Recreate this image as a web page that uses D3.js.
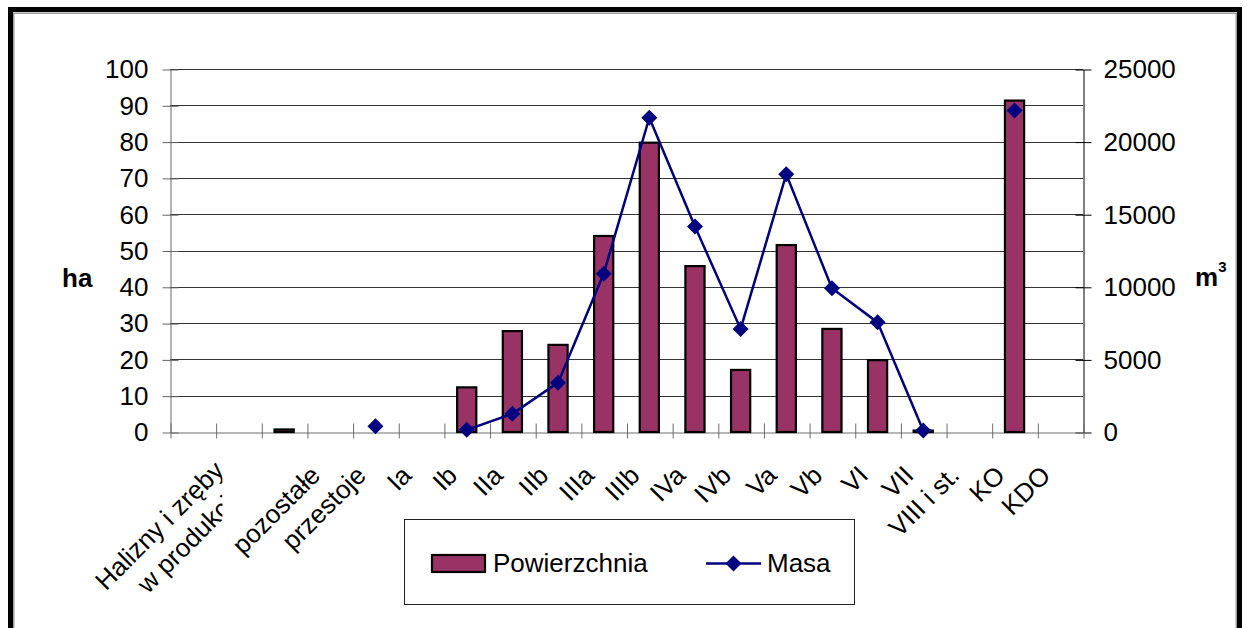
<!DOCTYPE html>
<html><head><meta charset="utf-8">
<script src="https://cdn.jsdelivr.net/npm/d3@7"></script>
<style>
body{margin:0;background:#fff}
svg{display:block;font-family:"Liberation Sans",Arial,sans-serif}
</style>
</head><body><svg id="c" width="1247" height="628"></svg>
<script>
// ---- data ----
const categories = ["", "Halizny i zręby\nw produkcji", "", "pozostałe", "przestoje", "Ia", "Ib", "IIa", "IIb", "IIIa", "IIIb", "IVa", "IVb", "Va", "Vb", "VI", "VII", "VIII i st.", "KO", "KDO"];
const powierzchnia = [null, null, 0.7, null, null, null, 12.3, 27.8, 24.0, 54.0, 79.7, 45.7, 17.1, 51.5, 28.4, 19.8, 0.4, null, 91.3, null];
const masa = [null, null, null, null, 400, null, 150, 1250, 3400, 10900, 21650, 14150, 7100, 17750, 9900, 7550, 100, null, 22150, null];
const leftTicks = [0, 10, 20, 30, 40, 50, 60, 70, 80, 90, 100];
const rightTicks = [0, 5000, 10000, 15000, 20000, 25000];
const seriesNames = ["Powierzchnia", "Masa"];
const leftTitle = "ha";
const rightTitle = "m";
const rightTitleSup = "3";

// ---- layout ----
const svg = d3.select("#c");
const L = 170, R = 1083, T = 69, B = 432;
const FS = 26;
const barColor = "#993366", lineColor = "#000080";

// frame
svg.append("rect").attr("x", 10.5).attr("y", 9.5).attr("width", 1229).attr("height", 700)
  .attr("fill", "none").attr("stroke", "#000").attr("stroke-width", 5);
svg.append("rect").attr("x", 13.75).attr("y", 13.25).attr("width", 1222.5).attr("height", 700)
  .attr("fill", "none").attr("stroke", "#9a9a9a").attr("stroke-width", 1.5);

const idx = d3.range(categories.length);
const x = d3.scaleBand().domain(idx).range([L, R]).padding(0);
const xb = d3.scaleLinear().domain([0, categories.length]).range([L, R]);
const yL = d3.scaleLinear().domain([0, 100]).range([B, T]);
const yR = d3.scaleLinear().domain([0, 25000]).range([B, T]);
const cx = i => x(i) + x.bandwidth() / 2;

// gridlines
svg.append("g").selectAll("line").data(leftTicks.filter(t => t > 0)).join("line")
  .attr("x1", L).attr("x2", R)
  .attr("y1", d => Math.round(yL(d)) + 0.5).attr("y2", d => Math.round(yL(d)) + 0.5)
  .attr("stroke", "#333").attr("stroke-width", 1.1);

// left axis
const gl = svg.append("g").attr("transform", `translate(${L + 0.5},0.5)`)
  .call(d3.axisLeft(yL).tickValues(leftTicks).tickSize(8).tickSizeOuter(0).tickPadding(14));
gl.select(".domain").attr("stroke", "#666");
gl.selectAll(".tick line").attr("x1", 8).attr("x2", -8).attr("stroke", "#666");
gl.selectAll(".tick text").attr("font-size", FS).attr("fill", "#000").attr("font-family", "Liberation Sans, Arial, sans-serif");

// right axis
const gr = svg.append("g").attr("transform", `translate(${R + 0.5},0.5)`)
  .call(d3.axisRight(yR).tickValues(rightTicks).tickSize(8).tickSizeOuter(0).tickPadding(12).tickFormat(d3.format("d")));
gr.select(".domain").attr("stroke", "#000");
gr.selectAll(".tick line").attr("x1", -8).attr("x2", 8).attr("stroke", "#000");
gr.selectAll(".tick text").attr("font-size", FS).attr("fill", "#000").attr("font-family", "Liberation Sans, Arial, sans-serif");

// bottom axis
const gb = svg.append("g").attr("transform", `translate(0.5,${B + 0.5})`)
  .call(d3.axisBottom(xb).tickValues(d3.range(categories.length + 1)).tickFormat("").tickSize(6).tickSizeOuter(0));
gb.select(".domain").attr("stroke", "#6e6e6e");
gb.selectAll(".tick line").attr("y1", -9).attr("y2", 6).attr("stroke", "#6e6e6e");

// category labels
const defs = svg.append("defs");
categories.forEach((lab, i) => {
  if (!lab) return;
  const lines = lab.split("\n");
  if (lines.length === 1) {
    svg.append("text")
      .attr("transform", `translate(${cx(i) - 8},477) rotate(-45)`)
      .attr("text-anchor", "end").attr("font-size", FS).attr("fill", "#000")
      .text(lab);
  } else {
    // multi-line label, clipped to its slot like the original
    const clipX = cx(i) - 16;
    defs.append("clipPath").attr("id", "clip" + i)
      .append("rect").attr("x", 0).attr("y", 0).attr("width", clipX).attr("height", 628);
    const outer = svg.append("g").attr("clip-path", `url(#clip${i})`);
    const g = outer.append("g").attr("transform", `translate(${cx(i) - 13},472) rotate(-45)`);
    const t1 = g.append("text").attr("text-anchor", "end")
      .attr("font-size", FS).attr("fill", "#000").attr("x", 0).attr("y", 0).text(lines[0]);
    const W1 = t1.node().getComputedTextLength();
    g.append("text").attr("text-anchor", "start")
      .attr("font-size", FS).attr("fill", "#000").attr("x", -W1 + 27.6).attr("y", 31.8).text(lines[1]);
  }
});

// bars
const barW = x.bandwidth() * 0.42;
svg.append("g").selectAll("rect").data(idx.filter(i => powierzchnia[i] != null)).join("rect")
  .attr("x", i => cx(i) - barW / 2)
  .attr("y", i => yL(powierzchnia[i]))
  .attr("width", barW)
  .attr("height", i => B - yL(powierzchnia[i]))
  .attr("fill", barColor).attr("stroke", "#000").attr("stroke-width", 2.2);

// line
const line = d3.line().defined(i => masa[i] != null).x(i => cx(i)).y(i => yR(masa[i]));
svg.append("path").attr("d", line(idx)).attr("fill", "none")
  .attr("stroke", lineColor).attr("stroke-width", 2.5);

const diamond = d3.symbol(d3.symbolSquare, 128);
svg.append("g").selectAll("path").data(idx.filter(i => masa[i] != null)).join("path")
  .attr("transform", i => `translate(${cx(i)},${yR(masa[i])}) rotate(45)`)
  .attr("d", diamond()).attr("fill", lineColor);

// axis titles
svg.append("text").attr("x", 62).attr("y", 287).attr("font-size", 26).attr("font-weight", "bold").text(leftTitle);
const rt = svg.append("text").attr("x", 1195).attr("y", 286).attr("font-size", 26).attr("font-weight", "bold");
rt.append("tspan").text(rightTitle);
rt.append("tspan").attr("font-size", 15).attr("dy", -14).text(rightTitleSup);

// legend
const lg = svg.append("g");
lg.append("rect").attr("x", 404.5).attr("y", 519.5).attr("width", 450).attr("height", 85)
  .attr("fill", "#fff").attr("stroke", "#222").attr("stroke-width", 1);
lg.append("rect").attr("x", 432).attr("y", 555).attr("width", 53).attr("height", 17)
  .attr("fill", barColor).attr("stroke", "#000").attr("stroke-width", 2.2);
lg.append("text").attr("x", 493).attr("y", 572).attr("font-size", FS).text(seriesNames[0]);
lg.append("line").attr("x1", 706).attr("x2", 761).attr("y1", 563.5).attr("y2", 563.5)
  .attr("stroke", lineColor).attr("stroke-width", 2.5);
lg.append("path").attr("transform", "translate(733.5,563.5) rotate(45)").attr("d", diamond()).attr("fill", lineColor);
lg.append("text").attr("x", 767).attr("y", 572).attr("font-size", FS).text(seriesNames[1]);
</script>
</body></html>
